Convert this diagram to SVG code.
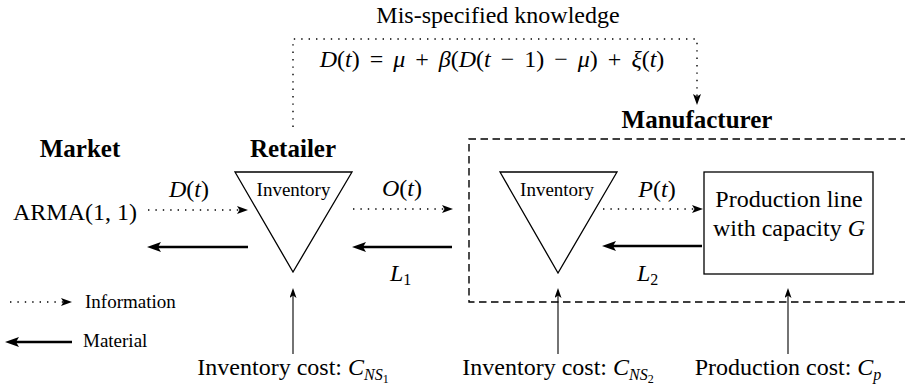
<svg xmlns="http://www.w3.org/2000/svg" width="905" height="390" viewBox="0 0 905 390">
<style>
text{font-family:"Liberation Serif","Times New Roman",serif;fill:#000;font-size:24px}
.b{font-weight:bold;font-size:25px}
.i{font-style:italic}
.sm{font-size:19px}
.eq{word-spacing:4px}
.shape{fill:none;stroke:#000;stroke-width:1.3}
.info{fill:none;stroke:#000;stroke-width:1.4;stroke-dasharray:1.4 6}
.mat{fill:none;stroke:#000;stroke-width:2.3}
.cost{fill:none;stroke:#000;stroke-width:1.1}
.dash{fill:none;stroke:#000;stroke-width:1.4;stroke-dasharray:7.5 4.5}
</style>
<defs>
<marker id="hInfo" markerUnits="userSpaceOnUse" markerWidth="11" markerHeight="8" viewBox="0 0 11 8" refX="4" refY="4" orient="auto">
<path d="M0,0 L11,4 L0,8 L2.5,4 z" fill="#000"/>
</marker>
<marker id="hMat" markerUnits="userSpaceOnUse" markerWidth="14" markerHeight="10" viewBox="0 0 14 10" refX="5" refY="5" orient="auto">
<path d="M0,0 L14,5 L0,10 L3,5 z" fill="#000"/>
</marker>
<marker id="hCost" markerUnits="userSpaceOnUse" markerWidth="10" markerHeight="7" viewBox="0 0 10 7" refX="4" refY="3.5" orient="auto">
<path d="M0,0 L10,3.5 L0,7 L2.5,3.5 z" fill="#000"/>
</marker>
</defs>

<g id="knowledge">
<text x="498" y="23" text-anchor="middle">Mis-specified knowledge</text>
<text class="eq" x="492" y="67" text-anchor="middle"><tspan class="i">D</tspan>(<tspan class="i">t</tspan>) = <tspan class="i">μ</tspan> + <tspan class="i">β</tspan>(<tspan class="i">D</tspan>(<tspan class="i">t</tspan> − 1) − <tspan class="i">μ</tspan>) + <tspan class="i">ξ</tspan>(<tspan class="i">t</tspan>)</text>
</g>

<g id="market">
<text class="b" x="80" y="157" text-anchor="middle">Market</text>
<text x="13" y="220">ARMA(1, 1)</text>
</g>

<g id="retailer">
<text class="b" x="293" y="157" text-anchor="middle">Retailer</text>
<polygon class="shape" points="235,172 352,172 293,272"/>
<text class="sm" x="293.5" y="196" text-anchor="middle">Inventory</text>
</g>

<g id="manufacturer">
<text class="b" x="697" y="128" text-anchor="middle">Manufacturer</text>
<path class="dash" d="M920,139 H469 V302 H920"/>
<polygon class="shape" points="500,172 617,172 558,273"/>
<text class="sm" x="557" y="196" text-anchor="middle">Inventory</text>
</g>

<g id="production">
<rect class="shape" x="704" y="172" width="169" height="102"/>
<text x="789" y="207" text-anchor="middle">Production line</text>
<text x="789" y="236" text-anchor="middle">with capacity <tspan class="i">G</tspan></text>
</g>

<g id="costs">
<text x="293" y="375" text-anchor="middle">Inventory cost: <tspan class="i">C</tspan><tspan class="i" font-size="16" dy="5">NS</tspan><tspan font-size="12" dy="3">1</tspan></text>
<text x="558" y="375" text-anchor="middle">Inventory cost: <tspan class="i">C</tspan><tspan class="i" font-size="16" dy="5">NS</tspan><tspan font-size="12" dy="3">2</tspan></text>
<text x="788" y="375" text-anchor="middle">Production cost: <tspan class="i">C</tspan><tspan class="i" font-size="16" dy="5">p</tspan></text>
</g>

<g id="legend">
<line class="info" x1="10" y1="302" x2="65" y2="302" marker-end="url(#hInfo)"/>
<text class="sm" x="85" y="308">Information</text>
<line class="mat" x1="72" y1="342" x2="14" y2="342" marker-end="url(#hMat)"/>
<text class="sm" x="83" y="347">Material</text>
</g>

<g id="connectors">
<path class="info" d="M293,127 V39 H697 V98" marker-end="url(#hInfo)"/>
<line class="info" x1="148" y1="210" x2="241" y2="210" marker-end="url(#hInfo)"/>
<line class="info" x1="353" y1="209" x2="446" y2="209" marker-end="url(#hInfo)"/>
<line class="info" x1="603" y1="209" x2="696" y2="209" marker-end="url(#hInfo)"/>
<line class="mat" x1="248" y1="247" x2="156" y2="247" marker-end="url(#hMat)"/>
<line class="mat" x1="452" y1="247" x2="361" y2="247" marker-end="url(#hMat)"/>
<line class="mat" x1="702" y1="246" x2="611" y2="246" marker-end="url(#hMat)"/>
<line class="cost" x1="293" y1="354" x2="293" y2="294" marker-end="url(#hCost)"/>
<line class="cost" x1="558" y1="354" x2="558" y2="294" marker-end="url(#hCost)"/>
<line class="cost" x1="788" y1="354" x2="788" y2="294" marker-end="url(#hCost)"/>
<text x="189" y="197" text-anchor="middle"><tspan class="i">D</tspan>(<tspan class="i">t</tspan>)</text>
<text x="402" y="196" text-anchor="middle"><tspan class="i">O</tspan>(<tspan class="i">t</tspan>)</text>
<text x="657" y="197" text-anchor="middle"><tspan class="i">P</tspan>(<tspan class="i">t</tspan>)</text>
<text x="390" y="281" class="i">L<tspan font-size="16" dy="4" font-style="normal">1</tspan></text>
<text x="637" y="281" class="i">L<tspan font-size="16" dy="4" font-style="normal">2</tspan></text>
</g>
</svg>
